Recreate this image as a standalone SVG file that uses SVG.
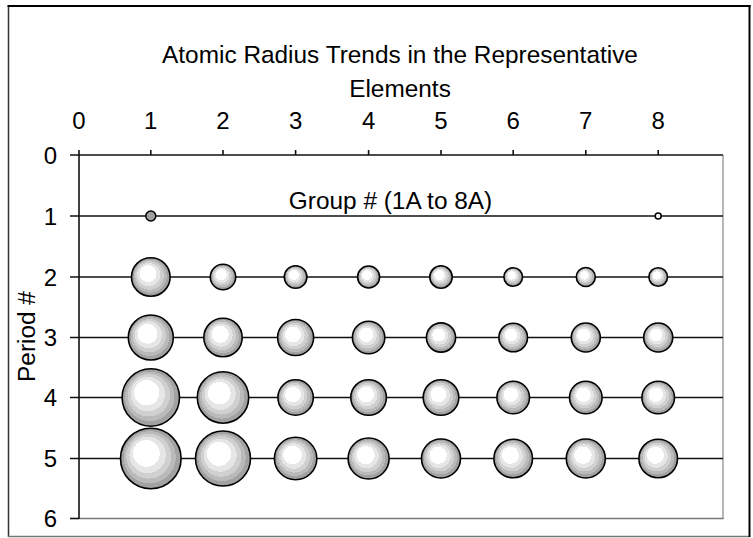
<svg xmlns="http://www.w3.org/2000/svg" width="753" height="538" viewBox="0 0 753 538">
<style>
text{font-family:"Liberation Sans",Arial,sans-serif;fill:#000}
.t{font-size:24.4px}
.k{font-size:24px}
.g{stroke:#111;stroke-width:1.6;fill:none}
.b{stroke:#000;stroke-width:1.6;fill:url(#ball)}
</style>
<defs>
<radialGradient id="ball" cx="0.5" cy="0.5" r="0.5" fx="0.37" fy="0.35">
<stop offset="0" stop-color="#fff"/>
<stop offset="0.44" stop-color="#fff"/>
<stop offset="0.44" stop-color="#e6e6e6"/>
<stop offset="0.6" stop-color="#e6e6e6"/>
<stop offset="0.6" stop-color="#d0d0d0"/>
<stop offset="0.74" stop-color="#d0d0d0"/>
<stop offset="0.74" stop-color="#bababa"/>
<stop offset="0.86" stop-color="#bababa"/>
<stop offset="0.86" stop-color="#a2a2a2"/>
<stop offset="1" stop-color="#a2a2a2"/>
</radialGradient>
</defs>
<rect x="0" y="0" width="753" height="538" fill="#fff"/>
<g id="frame">
<line x1="8.5" y1="6" x2="8.5" y2="537" stroke="#333" stroke-width="1.5"/>
<line x1="8" y1="536.5" x2="750" y2="536.5" stroke="#777" stroke-width="1.5"/>
<line x1="7.5" y1="6" x2="750.5" y2="6" stroke="#000" stroke-width="2"/>
<line x1="749.5" y1="5" x2="749.5" y2="537" stroke="#000" stroke-width="2"/>
</g>
<g id="title">
<text class="t" x="400" y="63" text-anchor="middle">Atomic Radius Trends in the Representative</text>
<text class="t" x="400" y="97" text-anchor="middle">Elements</text>
</g>
<g id="plot-border">
<line x1="723" y1="155" x2="723" y2="519" stroke="#a0a0a0" stroke-width="1.5"/>
<line x1="79" y1="518.5" x2="723.5" y2="518.5" stroke="#777" stroke-width="1.6"/>
</g>
<g id="connectors">
<line class="g" x1="70" y1="155" x2="723" y2="155"/>
<line class="g" x1="70" y1="216" x2="723" y2="216"/>
<line class="g" x1="70" y1="277" x2="723" y2="277"/>
<line class="g" x1="70" y1="337.5" x2="723" y2="337.5"/>
<line class="g" x1="70" y1="397.5" x2="723" y2="397.5"/>
<line class="g" x1="70" y1="458.5" x2="723" y2="458.5"/>
<line class="g" x1="70" y1="518.5" x2="79" y2="518.5"/>
<line class="g" x1="79" y1="150" x2="79" y2="519"/>
<path class="g" d="M150.8 150V155M223 150V155M295.6 150V155M368.6 150V155M441 150V155M513.2 150V155M585.8 150V155M658.2 150V155"/>
</g>
<g id="x-labels" text-anchor="middle">
<text class="k" x="79" y="129">0</text>
<text class="k" x="150.8" y="129">1</text>
<text class="k" x="223" y="129">2</text>
<text class="k" x="295.6" y="129">3</text>
<text class="k" x="368.6" y="129">4</text>
<text class="k" x="441" y="129">5</text>
<text class="k" x="513.2" y="129">6</text>
<text class="k" x="585.8" y="129">7</text>
<text class="k" x="658.2" y="129">8</text>
</g>
<g id="y-labels" text-anchor="end">
<text class="k" x="57" y="163.5">0</text>
<text class="k" x="57" y="224.5">1</text>
<text class="k" x="57" y="285.5">2</text>
<text class="k" x="57" y="346">3</text>
<text class="k" x="57" y="406">4</text>
<text class="k" x="57" y="467">5</text>
<text class="k" x="57" y="527">6</text>
</g>
<g id="axis-titles">
<text class="t" x="390.5" y="209" text-anchor="middle">Group # (1A to 8A)</text>
<text class="t" transform="translate(35,336.5) rotate(-90)" text-anchor="middle">Period #</text>
</g>
<g id="period1">
<circle id="p1g1" cx="150.8" cy="216" r="5" fill="#a0a0a0" stroke="#000" stroke-width="1.5"/>
<circle id="p1g8" cx="658.2" cy="216" r="3" fill="#fff" stroke="#000" stroke-width="1.5"/>
</g>
<g id="period2">
<circle id="p2g1" class="b" cx="150.8" cy="277" r="19.3"/>
<circle id="p2g2" class="b" cx="223" cy="277" r="12.7"/>
<circle id="p2g3" class="b" cx="295.6" cy="277" r="11.3"/>
<circle id="p2g4" class="b" cx="368.6" cy="277" r="11"/>
<circle id="p2g5" class="b" cx="441" cy="277" r="11.2"/>
<circle id="p2g6" class="b" cx="513.2" cy="277" r="9.3"/>
<circle id="p2g7" class="b" cx="585.8" cy="277" r="9.5"/>
<circle id="p2g8" class="b" cx="658.2" cy="277" r="9.3"/>
</g>
<g id="period3">
<circle id="p3g1" class="b" cx="150.8" cy="337.5" r="22.5"/>
<circle id="p3g2" class="b" cx="223" cy="337.5" r="19.2"/>
<circle id="p3g3" class="b" cx="295.6" cy="337.5" r="18"/>
<circle id="p3g4" class="b" cx="368.6" cy="337.5" r="16.2"/>
<circle id="p3g5" class="b" cx="441" cy="337.5" r="14.6"/>
<circle id="p3g6" class="b" cx="513.2" cy="337.5" r="14.3"/>
<circle id="p3g7" class="b" cx="585.8" cy="337.5" r="14.5"/>
<circle id="p3g8" class="b" cx="658.2" cy="337.5" r="14.5"/>
</g>
<g id="period4">
<circle id="p4g1" class="b" cx="150.8" cy="397.5" r="28.7"/>
<circle id="p4g2" class="b" cx="223" cy="397.5" r="25.7"/>
<circle id="p4g3" class="b" cx="295.6" cy="397.5" r="17.7"/>
<circle id="p4g4" class="b" cx="368.6" cy="397.5" r="17.8"/>
<circle id="p4g5" class="b" cx="441" cy="397.5" r="17.8"/>
<circle id="p4g6" class="b" cx="513.2" cy="397.5" r="16.3"/>
<circle id="p4g7" class="b" cx="585.8" cy="397.5" r="16.3"/>
<circle id="p4g8" class="b" cx="658.2" cy="397.5" r="16.3"/>
</g>
<g id="period5">
<circle id="p5g1" class="b" cx="150.8" cy="458.5" r="30.3"/>
<circle id="p5g2" class="b" cx="223" cy="458.5" r="27.5"/>
<circle id="p5g3" class="b" cx="295.6" cy="458.5" r="21.2"/>
<circle id="p5g4" class="b" cx="368.6" cy="458.5" r="20.5"/>
<circle id="p5g5" class="b" cx="441" cy="458.5" r="19.5"/>
<circle id="p5g6" class="b" cx="513.2" cy="458.5" r="19.3"/>
<circle id="p5g7" class="b" cx="585.8" cy="458.5" r="19.5"/>
<circle id="p5g8" class="b" cx="658.2" cy="458.5" r="19.3"/>
</g>
</svg>
